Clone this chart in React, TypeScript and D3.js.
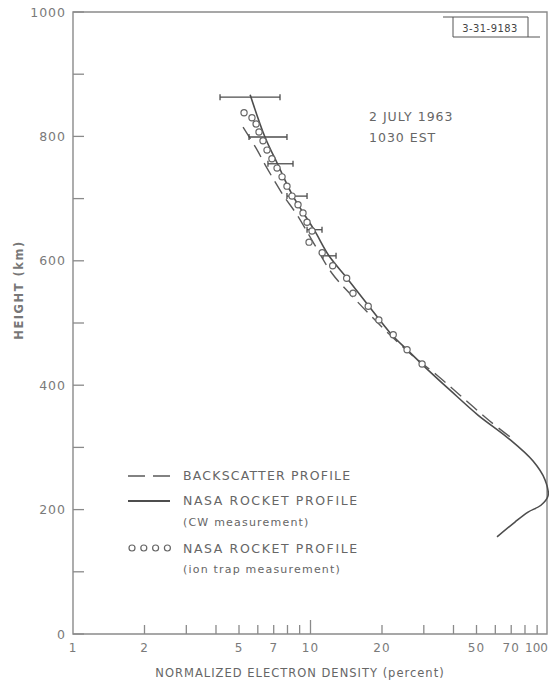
import React, { useEffect, useRef } from 'react';
import * as d3 from 'd3';

// x ticks (percent, log) and y ticks (km)
const densityTicks = [1, 2, 3, 4, 5, 6, 7, 8, 9, 10, 20, 30, 40, 50, 60, 70, 80, 90, 100];
const densityLabels = [1, 2, 5, 7, 10, 20, 50, 70, 100];
const heightTicks = [0, 100, 200, 300, 400, 500, 600, 700, 800, 900, 1000];
const heightLabels = [0, 200, 400, 600, 800, 1000];

// NASA rocket profile (CW measurement), solid line
const cwDensity = [5.57, 6.43, 7.3, 8.44, 10.35, 11.96, 14.25, 17.46, 22.0, 25.5, 29.8, 38.7, 50.7, 67.9, 86.5, 97.1, 100, 93.4, 82.4, 72.6, 61.0];
const cwHeight = [867, 799, 754, 704, 650, 608, 572, 529, 481, 457, 432, 392, 352, 315, 278, 248, 222, 207, 196, 180, 156];

// backscatter profile, dashed line
const bsDensity = [5.2, 5.9, 6.56, 7.66, 8.77, 10.15, 12.31, 14.67, 17.8, 21.6, 27.0, 34.1, 42.6, 57.0, 69.2];
const bsHeight = [815, 781, 749, 706, 674, 633, 580, 547, 513, 481, 447, 416, 384, 342, 317];

// NASA rocket profile (ion trap measurement), circles
const ionDensity = [5.25, 5.67, 5.9, 6.07, 6.31, 6.56, 6.88, 7.23, 7.59, 7.96, 8.36, 8.86, 9.3, 9.67, 10.15, 9.86, 11.2, 12.4, 14.2, 15.1, 17.5, 19.4, 22.3, 25.5, 29.5];
const ionHeight = [838, 830, 820, 807, 793, 778, 764, 749, 735, 720, 704, 690, 677, 662, 648, 630, 613, 592, 572, 548, 527, 505, 481, 457, 434];

// error bars on the CW profile
const errHeight = [863, 799, 756, 704, 650, 608];
const errLow = [4.16, 5.51, 6.62, 7.96, 9.67, 11.29];
const errHigh = [7.44, 7.96, 8.44, 9.67, 11.18, 12.81];

const App = () => {
  const svgRef = useRef<SVGSVGElement>(null);

  useEffect(() => {
    const width = 549;
    const height = 682;
    const margin = { top: 12, right: 1, bottom: 48, left: 73 };
    const ink = '#4d4d4d';
    const grey = '#7a7a7a';
    const font = "'DejaVu Sans', sans-serif";

    const svg = d3.select(svgRef.current);
    svg.selectAll('*').remove();
    svg.attr('width', width).attr('height', height);

    const x = d3.scaleLog()
      .domain([1, 100])
      .range([margin.left, width - margin.right]);

    const y = d3.scaleLinear()
      .domain([0, 1000])
      .range([height - margin.bottom, margin.top]);

    const x0 = x.range()[0];
    const x1 = x.range()[1];
    const y0 = y.range()[0];
    const y1 = y.range()[1];

    // frame
    svg.append('path')
      .attr('d', `M${x0},${y1}V${y0}H${x1 - 1}V${y1}Z`)
      .attr('fill', 'none')
      .attr('stroke', '#8a8a8a')
      .attr('stroke-width', 1.4);

    // y ticks (inward)
    svg.append('g')
      .selectAll('line')
      .data(heightTicks)
      .join('line')
      .attr('x1', x0)
      .attr('x2', x0 + 11)
      .attr('y1', d => y(d))
      .attr('y2', d => y(d))
      .attr('stroke', '#8a8a8a')
      .attr('stroke-width', 1.3);

    svg.append('g')
      .selectAll('text')
      .data(heightLabels)
      .join('text')
      .attr('x', x0 - 7)
      .attr('y', d => y(d) + 4.5)
      .attr('text-anchor', 'end')
      .attr('font-family', font)
      .attr('font-size', 12.5)
      .attr('letter-spacing', 1)
      .attr('fill', grey)
      .text(d => d);

    // x ticks (inward), the decade tick is longer
    svg.append('g')
      .selectAll('line')
      .data(densityTicks.filter(d => d > 1 && d < 100))
      .join('line')
      .attr('x1', d => x(d))
      .attr('x2', d => x(d))
      .attr('y1', y0)
      .attr('y2', d => y0 - (d === 10 ? 14 : 9))
      .attr('stroke', '#8a8a8a')
      .attr('stroke-width', 1.3);

    // the last label would run off the page, so it ends at the frame
    svg.append('g')
      .selectAll('text')
      .data(densityLabels)
      .join('text')
      .attr('x', d => (d === 100 ? width - 1 : x(d)))
      .attr('y', y0 + 18)
      .attr('text-anchor', d => (d === 100 ? 'end' : 'middle'))
      .attr('font-family', font)
      .attr('font-size', 12)
      .attr('letter-spacing', d => (d === 100 ? 0 : 1))
      .attr('fill', grey)
      .text(d => d);

    // axis titles
    svg.append('text')
      .attr('x', 300)
      .attr('y', height - 5)
      .attr('text-anchor', 'middle')
      .attr('font-family', font)
      .attr('font-size', 11.5)
      .attr('letter-spacing', 1)
      .attr('fill', '#666')
      .text('NORMALIZED ELECTRON DENSITY (percent)');

    svg.append('text')
      .attr('transform', 'rotate(-90)')
      .attr('x', -290)
      .attr('y', 23)
      .attr('text-anchor', 'middle')
      .attr('font-family', font)
      .attr('font-size', 11.5)
      .attr('font-weight', 'bold')
      .attr('letter-spacing', 1.5)
      .attr('fill', '#777')
      .text('HEIGHT (km)');

    const line = d3.line<[number, number]>()
      .x(d => x(d[0]))
      .y(d => y(d[1]))
      .curve(d3.curveCatmullRom.alpha(0.5));

    // backscatter profile
    svg.append('path')
      .datum(bsDensity.map((v, i) => [v, bsHeight[i]] as [number, number]))
      .attr('d', line)
      .attr('fill', 'none')
      .attr('stroke', '#5a5a5a')
      .attr('stroke-width', 1.4)
      .attr('stroke-dasharray', '14,7');

    // rocket CW profile
    svg.append('path')
      .datum(cwDensity.map((v, i) => [v, cwHeight[i]] as [number, number]))
      .attr('d', line)
      .attr('fill', 'none')
      .attr('stroke', ink)
      .attr('stroke-width', 1.6);

    // error bars
    const bars = svg.append('g')
      .attr('stroke', ink)
      .attr('stroke-width', 1.3);
    errHeight.forEach((h, i) => {
      bars.append('line')
        .attr('x1', x(errLow[i])).attr('x2', x(errHigh[i]))
        .attr('y1', y(h)).attr('y2', y(h));
      [errLow[i], errHigh[i]].forEach(v => {
        bars.append('line')
          .attr('x1', x(v)).attr('x2', x(v))
          .attr('y1', y(h) - 3).attr('y2', y(h) + 3);
      });
    });

    // ion trap points
    svg.append('g')
      .selectAll('circle')
      .data(ionDensity.map((v, i) => [v, ionHeight[i]]))
      .join('circle')
      .attr('cx', d => x(d[0]))
      .attr('cy', d => y(d[1]))
      .attr('r', 3.1)
      .attr('fill', 'white')
      .attr('stroke', '#666')
      .attr('stroke-width', 1.2);

    // annotation
    const note = svg.append('g')
      .attr('font-family', font)
      .attr('font-size', 12.5)
      .attr('letter-spacing', 1)
      .attr('fill', '#666');
    note.append('text').attr('x', 369).attr('y', 121).text('2 JULY 1963');
    note.append('text').attr('x', 369).attr('y', 142).text('1030 EST');

    // figure number box
    svg.append('path')
      .attr('d', 'M443,17H528V37H453V17M528,37H540')
      .attr('fill', 'none')
      .attr('stroke', '#555')
      .attr('stroke-width', 1);
    svg.append('text')
      .attr('x', 490)
      .attr('y', 32)
      .attr('text-anchor', 'middle')
      .attr('font-family', "'Liberation Sans Narrow', 'DejaVu Sans Condensed', sans-serif")
      .attr('font-size', 11)
      .attr('letter-spacing', 0.5)
      .attr('fill', '#444')
      .text('3-31-9183');

    // legend
    const legend = svg.append('g')
      .attr('font-family', font)
      .attr('fill', '#666');

    legend.append('line')
      .attr('x1', 128).attr('x2', 170)
      .attr('y1', 476).attr('y2', 476)
      .attr('stroke', '#5a5a5a')
      .attr('stroke-width', 1.4)
      .attr('stroke-dasharray', '17,8');
    legend.append('line')
      .attr('x1', 128).attr('x2', 170)
      .attr('y1', 501).attr('y2', 501)
      .attr('stroke', ink)
      .attr('stroke-width', 1.8);
    legend.selectAll('circle')
      .data([0, 1, 2, 3])
      .join('circle')
      .attr('cx', d => 132 + d * 11.8)
      .attr('cy', 548)
      .attr('r', 3)
      .attr('fill', 'white')
      .attr('stroke', '#666')
      .attr('stroke-width', 1.2);

    const legendText = [
      { t: 'BACKSCATTER PROFILE', y: 480, s: 12.5, ls: 1.2 },
      { t: 'NASA ROCKET PROFILE', y: 505, s: 12.5, ls: 1.6 },
      { t: '(CW measurement)', y: 526, s: 11, ls: 1.2 },
      { t: 'NASA ROCKET PROFILE', y: 553, s: 12.5, ls: 1.6 },
      { t: '(ion trap measurement)', y: 573, s: 11, ls: 1.2 },
    ];
    legend.selectAll('text')
      .data(legendText)
      .join('text')
      .attr('x', 183)
      .attr('y', d => d.y)
      .attr('font-size', d => d.s)
      .attr('letter-spacing', d => d.ls)
      .text(d => d.t);
  }, []);

  return (
    <svg ref={svgRef} style={{ position: 'absolute', left: 0, top: 0, background: 'white' }}></svg>
  );
};

export default App;
